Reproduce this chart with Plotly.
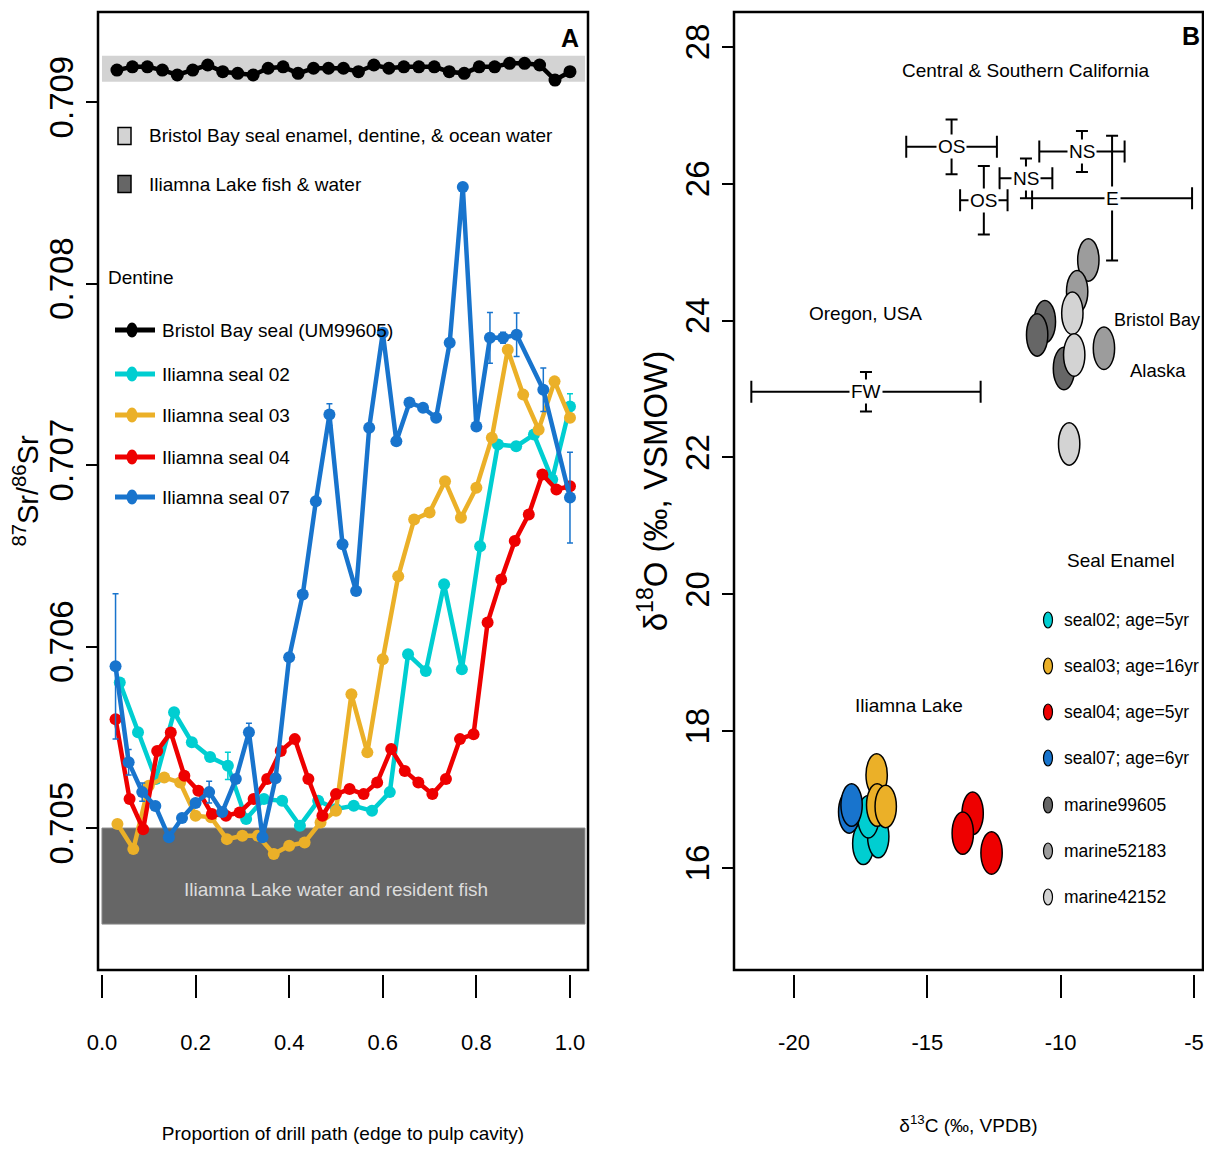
import plotly.graph_objects as go

# page body has an 8px margin, so the figure is drawn 8px smaller and shifted
OFF = 8
W, H = 1212 - OFF, 1154 - 2 * OFF

# ---------------- Panel A data (87Sr/86Sr along drill path) ----------------
x_bb99605 = [0.032, 0.065, 0.097, 0.129, 0.161, 0.194, 0.226, 0.258, 0.290, 0.323, 0.355,
             0.387, 0.419, 0.452, 0.484, 0.516, 0.548, 0.581, 0.613, 0.645, 0.677, 0.710,
             0.742, 0.774, 0.806, 0.839, 0.871, 0.903, 0.935, 0.968, 1.000]
sr_bb99605 = [0.709176, 0.709194, 0.709194, 0.709176, 0.709149, 0.709176, 0.709204, 0.709167,
              0.709158, 0.709149, 0.709186, 0.709194, 0.709158, 0.709186, 0.709186, 0.709186,
              0.709167, 0.709204, 0.709186, 0.709194, 0.709194, 0.709194, 0.709167, 0.709158,
              0.709194, 0.709194, 0.709213, 0.709213, 0.709204, 0.709121, 0.709167]

x_seal02 = [0.038, 0.077, 0.115, 0.154, 0.192, 0.231, 0.269, 0.308, 0.346, 0.385, 0.423, 0.462,
            0.500, 0.538, 0.577, 0.615, 0.654, 0.692, 0.731, 0.769, 0.808, 0.846, 0.885, 0.923,
            0.962, 1.000]
sr_seal02 = [0.705802, 0.705528, 0.705270, 0.705638, 0.705473, 0.705391, 0.705343, 0.705050,
             0.705160, 0.705150, 0.705013, 0.705150, 0.705105, 0.705123, 0.705095, 0.705198,
             0.705957, 0.705865, 0.706343, 0.705875, 0.706553, 0.707113, 0.707103, 0.707168,
             0.706920, 0.707323]
err_seal02 = [0.00002, 0.00002, 0.00002, 0.00002, 0.00002, 0.00002, 0.000075, 0.00002, 0.00002,
              0.00002, 0.00002, 0.00002, 0.00002, 0.00002, 0.00002, 0.00002, 0.00002, 0.00002,
              0.00002, 0.00002, 0.00002, 0.00002, 0.00002, 0.00002, 0.00002, 0.00007]

x_seal03 = [0.033, 0.067, 0.100, 0.133, 0.167, 0.200, 0.233, 0.267, 0.300, 0.333, 0.367, 0.400,
            0.433, 0.467, 0.500, 0.533, 0.567, 0.600, 0.633, 0.667, 0.700, 0.733, 0.767, 0.800,
            0.833, 0.867, 0.900, 0.933, 0.967, 1.000]
sr_seal03 = [0.705022, 0.704884, 0.705233, 0.705279, 0.705251, 0.705068, 0.705059, 0.704939,
             0.704958, 0.704958, 0.704857, 0.704903, 0.704921, 0.705031, 0.705095, 0.705737,
             0.705417, 0.705930, 0.706387, 0.706700, 0.706739, 0.706911, 0.706709, 0.706875,
             0.707150, 0.707635, 0.707388, 0.707195, 0.707461, 0.707260]

x_seal04 = [0.029, 0.059, 0.088, 0.118, 0.147, 0.176, 0.206, 0.235, 0.265, 0.294, 0.324, 0.353,
            0.382, 0.412, 0.441, 0.471, 0.500, 0.529, 0.559, 0.588, 0.618, 0.647, 0.676, 0.706,
            0.735, 0.765, 0.794, 0.824, 0.853, 0.882, 0.912, 0.941, 0.971, 1.000]
sr_seal04 = [0.705600, 0.705160, 0.704994, 0.705425, 0.705527, 0.705288, 0.705205, 0.705077,
             0.705068, 0.705086, 0.705160, 0.705270, 0.705425, 0.705490, 0.705270, 0.705068,
             0.705187, 0.705215, 0.705187, 0.705251, 0.705435, 0.705315, 0.705251, 0.705187,
             0.705270, 0.705490, 0.705517, 0.706132, 0.706370, 0.706581, 0.706728, 0.706948,
             0.706865, 0.706883]

x_seal07 = [0.029, 0.057, 0.086, 0.114, 0.143, 0.171, 0.200, 0.229, 0.257, 0.286, 0.314, 0.343,
            0.371, 0.400, 0.429, 0.457, 0.486, 0.514, 0.543, 0.571, 0.600, 0.629, 0.657, 0.686,
            0.714, 0.743, 0.771, 0.800, 0.829, 0.857, 0.886, 0.943, 1.000]
sr_seal07 = [0.705891, 0.705363, 0.705198, 0.705121, 0.704950, 0.705055, 0.705138, 0.705198,
             0.705088, 0.705270, 0.705528, 0.704950, 0.705275, 0.705941, 0.706287, 0.706801,
             0.707278, 0.706563, 0.706306, 0.707206, 0.707729, 0.707131, 0.707344, 0.707316,
             0.707261, 0.707674, 0.708532, 0.707212, 0.707701, 0.707701, 0.707718, 0.707415,
             0.706821]
err_seal07 = [0.00040, 0.00007, 0.00005, 0.00002, 0.00002, 0.00002, 0.00002, 0.00006, 0.00002,
              0.00002, 0.00005, 0.00002, 0.00002, 0.00002, 0.00002, 0.00002, 0.00006, 0.00002,
              0.00002, 0.00002, 0.00002, 0.00002, 0.00002, 0.00002, 0.00002, 0.00002, 0.00002,
              0.00002, 0.00014, 0.00003, 0.00012, 0.00012, 0.00025]

band_x = [0.0, 1.032]
band_ocean = [0.709112, 0.709255]   # Bristol Bay seal enamel, dentine & ocean water
band_lake = [0.704471, 0.705000]    # Iliamna Lake water and resident fish

xticks_A = [0.0, 0.2, 0.4, 0.6, 0.8, 1.0]
xtick_text_A = ["0.0", "0.2", "0.4", "0.6", "0.8", "1.0"]
yticks_A = [0.705, 0.706, 0.707, 0.708, 0.709]
ytick_text_A = ["0.705", "0.706", "0.707", "0.708", "0.709"]

# ---------------- Panel B data (d13C vs d18O) ----------------
d13c_seal02 = [-17.40, -16.84, -17.21]
d18o_seal02 = [16.36, 16.46, 16.75]
d13c_seal03 = [-16.90, -16.88, -16.56]
d18o_seal03 = [17.36, 16.92, 16.90]
d13c_seal04 = [-13.30, -13.67, -12.59]
d18o_seal04 = [16.80, 16.51, 16.22]
d13c_seal07 = [-17.93, -17.84]
d18o_seal07 = [16.82, 16.92]
d13c_m99605 = [-10.59, -10.88, -9.875]
d18o_m99605 = [23.985, 23.791, 23.30]
d13c_m52183 = [-8.96, -9.38, -8.375]
d18o_m52183 = [24.887, 24.424, 23.596]
d13c_m42152 = [-9.56, -9.49, -9.68]
d18o_m42152 = [24.108, 23.498, 22.198]

ref_labels = ["OS", "OS", "NS", "NS", "E", "FW"]
ref_d13c = [-14.09, -12.88, -11.30, -9.20, -8.07, -17.30]
ref_d13c_sd = [1.70, 0.89, 0.99, 1.60, 3.00, 4.30]
ref_d18o = [26.54, 25.76, 26.08, 26.47, 25.79, 22.96]
ref_d18o_sd = [0.40, 0.50, 0.29, 0.30, 0.91, 0.29]

xticks_B = [-20, -15, -10, -5]
xtick_text_B = ["-20", "-15", "-10", "-5"]
yticks_B = [16, 18, 20, 22, 24, 26, 28]

dentine_names = ["Bristol Bay seal (UM99605)", "Iliamna seal 02", "Iliamna seal 03",
                 "Iliamna seal 04", "Iliamna seal 07"]
band_names = ["Bristol Bay seal enamel, dentine, & ocean water", "Iliamna Lake fish & water"]
enamel_names = ["seal02; age=5yr", "seal03; age=16yr", "seal04; age=5yr", "seal07; age=6yr",
                "marine99605", "marine52183", "marine42152"]

# ---------------- styling ----------------
FONT = "Liberation Sans, Arial, Helvetica, sans-serif"
C_BLACK = "#000000"
C_CYAN = "#00CED1"
C_ORANGE = "#EBB028"
C_RED = "#EE0000"
C_BLUE = "#1874CD"
C_DARK = "#666666"
C_MED = "#9C9C9C"
C_LIGHT = "#D3D3D3"


def px(x):
    return (x - OFF) / W


def py(y):
    return 1 - (y - OFF) / H


fig = go.Figure()

# ---------------- Panel A traces ----------------
seriesA = [
    (dentine_names[0], x_bb99605, sr_bb99605, None, C_BLACK, 13),
    (dentine_names[1], x_seal02, sr_seal02, err_seal02, C_CYAN, 12),
    (dentine_names[2], x_seal03, sr_seal03, None, C_ORANGE, 12),
    (dentine_names[3], x_seal04, sr_seal04, None, C_RED, 12),
    (dentine_names[4], x_seal07, sr_seal07, err_seal07, C_BLUE, 12),
]
for name, xs, ys, err, col, ms in seriesA:
    kw = {}
    if err is not None:
        kw["error_y"] = dict(type="data", array=err, visible=True, color=col, thickness=1.5, width=3)
    fig.add_trace(go.Scatter(
        x=xs, y=ys, name=name, mode="lines+markers", showlegend=False,
        line=dict(color=col, width=4.5), marker=dict(color=col, size=ms),
        xaxis="x", yaxis="y", **kw))

# ---------------- Panel B reference error bars ----------------
fig.add_trace(go.Scatter(
    x=ref_d13c, y=ref_d18o, mode="markers", showlegend=False,
    marker=dict(size=2, color="rgba(0,0,0,0)"),
    error_x=dict(type="data", array=ref_d13c_sd, visible=True, color="black", thickness=2, width=11),
    error_y=dict(type="data", array=ref_d18o_sd, visible=True, color="black", thickness=2, width=6),
    xaxis="x2", yaxis="y2"))

shapes = []
# reference bands (panel A)
shapes.append(dict(type="rect", xref="x", yref="y", x0=band_x[0], x1=band_x[1],
                   y0=band_ocean[0], y1=band_ocean[1], fillcolor=C_LIGHT,
                   line=dict(width=0), layer="below"))
shapes.append(dict(type="rect", xref="x", yref="y", x0=band_x[0], x1=band_x[1],
                   y0=band_lake[0], y1=band_lake[1], fillcolor=C_DARK,
                   line=dict(color="#8a8a8a", width=1), layer="below"))
# frames
for xr, yr in (("x domain", "y domain"), ("x2 domain", "y2 domain")):
    shapes.append(dict(type="rect", xref=xr, yref=yr, x0=0, x1=1, y0=0, y1=1,
                       line=dict(color="black", width=2.5), layer="above"))

# ellipse markers for panel B (drawn from the data arrays, via the data axes)
RX, RY = 0.40, 0.31
groupsB = [
    (d13c_seal02, d18o_seal02, C_CYAN),
    (d13c_seal03, d18o_seal03, C_ORANGE),
    (d13c_seal04, d18o_seal04, C_RED),
    (d13c_seal07, d18o_seal07, C_BLUE),
    (d13c_m99605, d18o_m99605, C_DARK),
    (d13c_m52183, d18o_m52183, C_MED),
    (d13c_m42152, d18o_m42152, C_LIGHT),
]
for xs, ys, col in groupsB:
    for xv, yv in zip(xs, ys):
        shapes.append(dict(type="circle", xref="x2", yref="y2",
                           x0=xv - RX, x1=xv + RX, y0=yv - RY, y1=yv + RY,
                           fillcolor=col, line=dict(color="black", width=1.5), layer="above"))

annotations = []


def ann(text, x, y, size=18, color="black", xanchor="center", angle=0, bold=False):
    annotations.append(dict(text=text, x=px(x), y=py(y), xref="paper", yref="paper",
                            showarrow=False, xanchor=xanchor, yanchor="middle", textangle=angle,
                            font=dict(family=FONT, size=size, color=color,
                                      weight="bold" if bold else "normal")))


# ---- panel A legends (drawn by hand) ----
for (name, col), ry in zip(zip(band_names, [C_LIGHT, C_DARK]), [136, 184]):
    shapes.append(dict(type="rect", xref="paper", yref="paper",
                       x0=px(118), x1=px(131), y0=py(ry + 8.5), y1=py(ry - 8.5),
                       fillcolor=col, line=dict(color="black", width=1.5)))
    ann(name, 147, ry, size=19, xanchor="left")

dent_rows = [330, 374, 415, 457, 497]
for s, ry in zip(seriesA, dent_rows):
    col = s[4]
    shapes.append(dict(type="line", xref="paper", yref="paper", x0=px(115), x1=px(155),
                       y0=py(ry), y1=py(ry), line=dict(color=col, width=5)))
    shapes.append(dict(type="circle", xref="paper", yref="paper",
                       x0=px(126.5), x1=px(137.5), y0=py(ry + 7.5), y1=py(ry - 7.5),
                       fillcolor=col, line=dict(color=col, width=0)))
    ann(s[0], 160, ry, size=19, xanchor="left")

# ---- panel B legend (drawn by hand) ----
leg_rows = [620, 666, 712, 758, 805, 851, 897]
for (xs, ys, col), name, ry in zip(groupsB, enamel_names, leg_rows):
    shapes.append(dict(type="circle", xref="paper", yref="paper",
                       x0=px(1043.5), x1=px(1052.5), y0=py(ry + 8), y1=py(ry - 8),
                       fillcolor=col, line=dict(color="black", width=1.2)))
    ann(name, 1062, ry, size=17.5, xanchor="left")

# Panel A texts
ann("A", 570, 38, size=25, bold=True)
ann("Dentine", 106, 278, size=19, xanchor="left")
ann("Iliamna Lake water and resident fish", 336, 889, size=19, color="#dcdcdc")

# Panel B texts
ann("B", 1191, 36, size=25, bold=True)
ann("Central & Southern California", 1026, 70, size=19)
ann("Oregon, USA", 866, 314, size=19)
ann("Bristol Bay", 1157, 320, size=18)
ann("Alaska", 1158, 371, size=18.5)
ann("Iliamna Lake", 909, 705, size=19)
ann("Seal Enamel", 1121, 560, size=19)

# labels on the reference error bars (placed at the data positions)
for lab, xv, yv in zip(ref_labels, ref_d13c, ref_d18o):
    annotations.append(dict(text=lab, x=xv, y=yv, xref="x2", yref="y2", showarrow=False,
                            font=dict(family=FONT, size=19, color="black"),
                            bgcolor="white", borderpad=1))

axis_common = dict(showgrid=False, zeroline=False, showline=False, ticks="outside",
                   tickcolor="black", tickwidth=2)

fig.update_layout(
    width=W, height=H, margin=dict(l=0, r=0, t=0, b=0, autoexpand=False),
    plot_bgcolor="white", paper_bgcolor="white", showlegend=False,
    xaxis=dict(domain=[px(98), px(588)], range=[-0.0085, 1.0385], anchor="free",
               position=py(974), ticklen=23, tickvals=xticks_A, ticktext=xtick_text_A,
               tickfont=dict(family=FONT, size=22, color="black"), ticklabelstandoff=26,
               title=dict(text="Proportion of drill path (edge to pulp cavity)",
                          font=dict(family=FONT, size=19, color="black"), standoff=72),
               **axis_common),
    yaxis=dict(domain=[py(970), py(12)], range=[0.704218, 0.709496], anchor="x",
               ticklen=11, tickvals=yticks_A, ticktext=ytick_text_A, tickangle=-90,
               tickfont=dict(family=FONT, size=33, color="black"), ticklabelstandoff=0,
               title=dict(text="<sup>87</sup>Sr/<sup>86</sup>Sr",
                          font=dict(family=FONT, size=29, color="black"), standoff=10),
               **axis_common),
    xaxis2=dict(domain=[px(734), px(1203)], range=[-22.25, -4.66], anchor="free",
                position=py(974), ticklen=23, tickvals=xticks_B, ticktext=xtick_text_B,
                tickfont=dict(family=FONT, size=22, color="black"), ticklabelstandoff=26,
                title=dict(text="δ<sup>13</sup>C (‰, VPDB)",
                           font=dict(family=FONT, size=19, color="black"), standoff=64),
                **axis_common),
    yaxis2=dict(domain=[py(970), py(12)], range=[14.51, 28.51], anchor="x2",
                ticklen=11, tickvals=yticks_B, tickangle=-90,
                tickfont=dict(family=FONT, size=33, color="black"), ticklabelstandoff=0,
                title=dict(text="δ<sup>18</sup>O (‰, VSMOW)",
                           font=dict(family=FONT, size=33, color="black"), standoff=1),
                **axis_common),
    shapes=shapes,
    annotations=annotations,
)

fig.write_html("out.html")
